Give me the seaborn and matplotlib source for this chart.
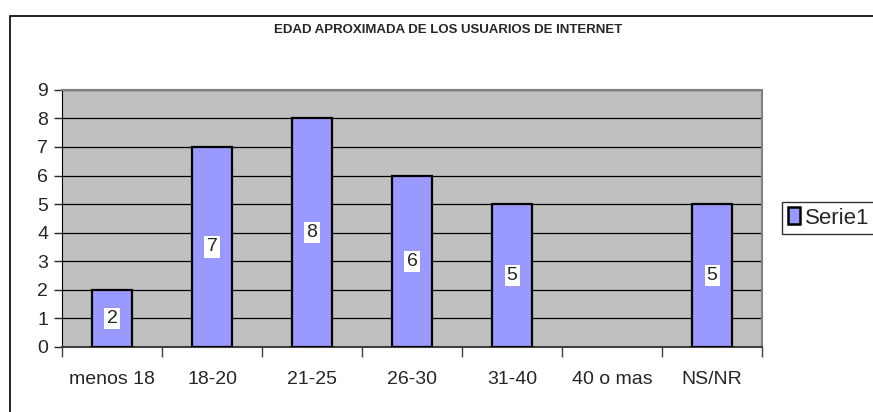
import matplotlib
matplotlib.use("Agg")
import matplotlib.pyplot as plt
import seaborn as sns
import pandas as pd
from matplotlib.patches import Patch, Rectangle

categorias = ["menos 18", "18-20", "21-25", "26-30", "31-40", "40 o mas", "NS/NR"]
usuarios = [2, 7, 8, 6, 5, 0, 5]
y_ticks = list(range(0, 10))
titulo = "EDAD APROXIMADA DE LOS USUARIOS DE INTERNET"
serie = "Serie1"

df = pd.DataFrame({"edad": categorias, "usuarios": usuarios})

sns.set_style("white")
plt.rcParams["font.family"] = ["Liberation Sans", "DejaVu Sans"]

fig = plt.figure(figsize=(8.73, 4.12), dpi=100)
ax = fig.add_axes([0.071, 0.158, 0.802, 0.624])
ax.set_facecolor("#C0C0C0")

sns.barplot(data=df, x="edad", y="usuarios", color="#9999FF", saturation=1,
            edgecolor="black", linewidth=1.6, width=0.4, ax=ax, zorder=3)

# barras de valor cero no se dibujan (como en Excel)
for p, v in zip(ax.patches, usuarios):
    if v == 0:
        p.set_visible(False)

# etiquetas de valor en el centro de cada barra
for i, v in enumerate(usuarios):
    if v > 0:
        ax.text(i, v / 2, str(v), ha="center", va="center", fontsize=14, zorder=4,
                bbox=dict(facecolor="white", edgecolor="none", pad=1.5))

ax.set_ylim(0, 9)
ax.set_xlim(-0.5, len(categorias) - 0.5)
ax.set_yticks(y_ticks)
ax.yaxis.grid(True, color="black", linewidth=0.9)
ax.set_axisbelow(True)

# marcas del eje x entre categorias, etiquetas al centro
ax.set_xticks([i - 0.5 for i in range(len(categorias) + 1)])
ax.set_xticklabels([])
ax.set_xticks(range(len(categorias)), minor=True)
ax.set_xticklabels(categorias, minor=True)
ax.tick_params(axis="x", which="major", bottom=True, direction="out", length=7, width=1, color="#404040")
ax.tick_params(axis="x", which="minor", bottom=True, length=0, pad=17, labelsize=14)
ax.tick_params(axis="y", left=True, direction="out", length=6, width=1, labelsize=14, pad=4)
ax.set_xlabel("")
ax.set_ylabel("")

for s in ["top", "right"]:
    ax.spines[s].set_color("#808080")
    ax.spines[s].set_linewidth(1.5)
ax.spines["left"].set_color("black")
ax.spines["bottom"].set_color("#404040")
ax.spines["bottom"].set_linewidth(1.5)

fig.text(0.513, 0.928, titulo, ha="center", va="center", fontsize=9.5, fontweight="bold")

leg = fig.legend(handles=[Patch(facecolor="#9999FF", edgecolor="black", linewidth=1.8)],
                 labels=[serie], loc="center left", bbox_to_anchor=(782 / 873, 1 - 218 / 412),
                 frameon=True, fancybox=False, fontsize=16, borderpad=0.25,
                 handlelength=0.55, handleheight=0.8, handletextpad=0.25, borderaxespad=0)
leg.get_frame().set_edgecolor("black")
leg.get_frame().set_linewidth(1)

# marco exterior del grafico
fig.patches.append(Rectangle((10 / 873, -0.2), 1.2, 0.2 + 1 - 16 / 412, transform=fig.transFigure,
                             fill=False, edgecolor="black", linewidth=1.2, figure=fig))

fig.savefig("out.png", dpi=100)
